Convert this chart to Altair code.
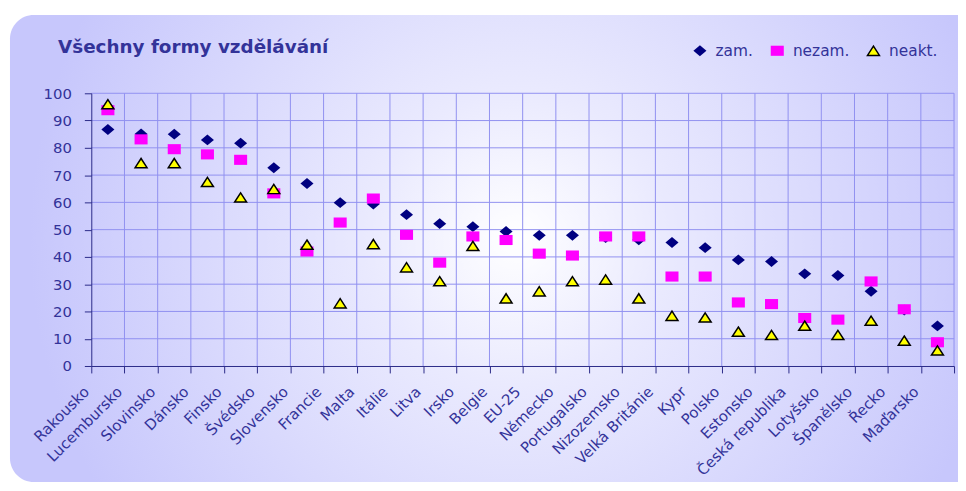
import altair as alt
import pandas as pd

title_text = "Všechny formy vzdělávání"

countries = ["Rakousko", "Lucembursko", "Slovinsko", "Dánsko", "Finsko", "Švédsko",
             "Slovensko", "Francie", "Malta", "Itálie", "Litva", "Irsko", "Belgie",
             "EU-25", "Německo", "Portugalsko", "Nizozemsko", "Velká Británie", "Kypr",
             "Polsko", "Estonsko", "Česká republika", "Lotyšsko", "Španělsko", "Řecko",
             "Maďarsko"]

zam = [86.7, 85.1, 85.0, 82.9, 81.7, 72.7, 66.9, 59.9, 59.4, 55.5, 52.2, 51.1, 49.3,
       47.9, 47.9, 47.1, 46.3, 45.3, 43.4, 38.9, 38.3, 33.8, 33.2, 27.4, 20.5, 14.7]
nezam = [93.8, 83.1, 79.5, 77.6, 75.6, 63.3, 42.0, 52.6, 61.4, 48.1, 37.9, 47.5, 46.2,
         41.2, 40.5, 47.5, 47.5, 32.8, 32.8, 23.3, 22.7, 17.6, 17.0, 31.0, 20.8, 8.7]
neakt = [96.0, 74.4, 74.4, 67.5, 61.8, 64.9, 44.5, 23.0, 44.7, 36.2, 31.1, 44.0, 24.8,
         27.4, 31.1, 31.7, 24.8, 18.4, 17.8, 12.6, 11.4, 14.8, 11.4, 16.6, 9.3, 5.7]

series = ["zam.", "nezam.", "neakt."]
y_ticks = list(range(0, 101, 10))

rows = []
for name, vals in zip(series, [zam, nezam, neakt]):
    for c, v in zip(countries, vals):
        rows.append({"country": c, "value": v, "series": name})
df = pd.DataFrame(rows)

W, H = 870, 275
TEXT = "#333399"
AXIS = "#2b2b88"
GRID = "#9191f0"
FONT = "DejaVu Sans"

x_scale = alt.Scale(type="band", domain=countries, paddingInner=0, paddingOuter=0)
y_scale = alt.Scale(domain=[0, 100], nice=False)

x_axis = alt.Axis(labelAngle=315, labelAlign="right", labelBaseline="middle",
                  labelOffset=-22, labelPadding=16, labelFont=FONT,
                  labelFontSize=15, labelColor=TEXT, tickColor=AXIS,
                  tickSize=7, tickBand="extent", domainColor=AXIS,
                  grid=False, labelOverlap=False, zindex=1)
y_axis = alt.Axis(values=y_ticks, tickCount=11, labelFont=FONT, labelFontSize=15,
                  labelColor=TEXT, tickColor=AXIS, tickSize=7, labelPadding=13,
                  domainColor=AXIS, grid=False, labelOverlap=False, zindex=1)

bg = alt.Chart(alt.Data(values=[{}])).mark_rect(
    cornerRadius=24,
    fill=alt.RadialGradient(
        gradient="radial", x1=0.52, y1=0.49, r1=0, x2=0.52, y2=0.49, r2=0.5,
        stops=[alt.GradientStop(offset=0, color="#ffffff"),
               alt.GradientStop(offset=0.3, color="#eaeafe"),
               alt.GradientStop(offset=1, color="#c7c7fc")]),
).encode(x=alt.value(-82), x2=alt.value(900), y=alt.value(-79), y2=alt.value(392))

xgrid = alt.Chart(pd.DataFrame({"country": countries})).mark_rule(
    color=GRID, strokeWidth=1
).encode(x=alt.X("country:N", scale=x_scale, bandPosition=1, title=None, axis=x_axis))

ygrid = alt.Chart(pd.DataFrame({"value": y_ticks[1:]})).mark_rule(
    color=GRID, strokeWidth=1
).encode(y=alt.Y("value:Q", scale=y_scale, title=None, axis=y_axis))

shape_paths = [
    "M0,-1L1.2,0L0,1L-1.2,0Z",
    "M-1.2,-0.93L1.2,-0.93L1.2,0.93L-1.2,0.93Z",
    "M0,-0.85L1.1,0.85L-1.1,0.85Z",
]

pts = alt.Chart(df).mark_point(filled=True, size=120, strokeWidth=1.5, opacity=1).encode(
    x=alt.X("country:N", scale=x_scale, title=None, axis=x_axis),
    y=alt.Y("value:Q", scale=y_scale, title=None, axis=y_axis),
    color=alt.Color("series:N", title=None,
                    scale=alt.Scale(domain=series, range=["#000080", "#ff00ff", "#ffff00"]),
                    legend=alt.Legend(orient="none", legendX=606, legendY=-51,
                                      direction="horizontal")),
    shape=alt.Shape("series:N", title=None,
                    scale=alt.Scale(domain=series, range=shape_paths)),
    stroke=alt.Stroke("series:N", title=None,
                      scale=alt.Scale(domain=series,
                                      range=["transparent", "transparent", "#000000"])),
)

title_layer = alt.Chart(alt.Data(values=[{"t": title_text}])).mark_text(
    align="left", baseline="alphabetic", font=FONT, fontSize=18.5,
    fontWeight="bold", color=TEXT
).encode(text="t:N", x=alt.value(-33.5), y=alt.value(-41))

chart = alt.layer(bg, xgrid, ygrid, pts, title_layer).properties(
    width=W, height=H,
    autosize=alt.AutoSizeParams(type="none"),
    padding={"left": 84, "top": 84, "right": 4, "bottom": 117},
    background="white",
).configure_view(strokeWidth=0).configure_axisY(
    labelOverlap=False
).configure_legend(
    labelFont=FONT, labelFontSize=15.5, labelColor=TEXT, columnPadding=14,
    labelOffset=8, symbolStrokeWidth=1.5, symbolSize=120, padding=0,
    symbolOpacity=1, orient="none", direction="horizontal"
)

chart.save("out.html", embed_options={"renderer": "svg", "actions": False})
